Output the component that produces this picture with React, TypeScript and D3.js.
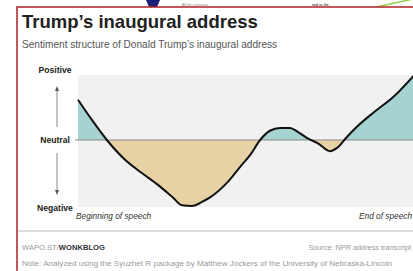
import React from 'react';
import * as d3 from 'd3';

// position through the speech (0 = beginning, 100 = end)
const speechPos = [0, 4.2, 8.6, 14.0, 19.0, 23.8, 28.0, 31.0, 33.9, 37.2, 39.3, 44.3, 48.2, 51.2, 54.2, 57.1, 60.1, 63.1, 65.5, 68.5, 71.4, 75.0, 77.1, 80.1, 83.0, 87.8, 93.8, 100];
// sentiment, -1 negative .. 1 positive
const sentiment = [0.61, 0.3, 0.0, -0.3, -0.5, -0.68, -0.86, -0.99, -1.0, -0.93, -0.87, -0.65, -0.41, -0.23, 0.0, 0.14, 0.18, 0.18, 0.12, 0.02, -0.05, -0.17, -0.12, 0.05, 0.2, 0.41, 0.65, 0.98];
const axisLabels = ['Positive', 'Neutral', 'Negative'];
const axisValues = [1, 0, -1];

const W = 413;
const H = 271;
const sans = "'Liberation Sans', Arial, sans-serif";

export default function App() {
  const x = d3.scaleLinear().domain([0, 100]).range([78, 414]);
  const y = d3.scaleLinear().domain([-1, 1]).range([206, 74]);
  const pts = speechPos.map((p, i) => ({ p, v: sentiment[i] }));

  const line = d3.line<{ p: number; v: number }>()
    .x(d => x(d.p))
    .y(d => y(d.v))
    .curve(d3.curveMonotoneX);
  const area = d3.area<{ p: number; v: number }>()
    .x(d => x(d.p))
    .y0(y(0))
    .y1(d => y(d.v))
    .curve(d3.curveMonotoneX);

  return (
    <svg width={W} height={H} style={{ position: 'fixed', left: 0, top: 0, background: '#fff' }}>
      <defs>
        <clipPath id="above"><rect x={0} y={0} width={W} height={y(0)} /></clipPath>
        <clipPath id="below"><rect x={0} y={y(0)} width={W} height={H} /></clipPath>
      </defs>

      {/* scrap of the page above the frame */}
      <polygon points="146,0 160,0 157,7 149,7" fill="#1c1f7a" />
      <line x1={372} y1={8} x2={413} y2={-1} stroke="#8fd14f" strokeWidth={1.5} />
      <text x={182} y={6} fontSize={3.5} fill="#888" fontFamily={sans}>All the scenarios</text>
      <text x={312} y={6} fontSize={3.5} fill="#555" fontFamily={sans} fontWeight="bold">and to the</text>

      {/* frame */}
      <rect x={17} y={7} width={420} height={280} fill="#fff" stroke="#b32025" strokeWidth={1.5} />

      <text x={22} y={28} fontFamily={sans} fontWeight="bold" fontSize={18.5} fill="#222">Trump’s inaugural address</text>
      <text x={22} y={48} fontFamily={sans} fontSize={10.1} fill="#555">Sentiment structure of Donald Trump’s inaugural address</text>

      <rect x={78} y={75} width={340} height={132} fill="#f1f1f1" />

      <path d={area(pts) ?? ''} fill="#a4d3d2" clipPath="url(#above)" />
      <path d={area(pts) ?? ''} fill="#e7d2a6" clipPath="url(#below)" />
      <line x1={75} x2={W} y1={y(0)} y2={y(0)} stroke="#8a8a8a" strokeWidth={1} />
      <path d={line(pts) ?? ''} fill="none" stroke="#111" strokeWidth={2} />

      {axisLabels.map((l, i) => (
        <text key={l} x={55} y={y(axisValues[i]) + (i === 0 ? -1 : i === 1 ? 3 : 5)} textAnchor="middle"
          fontFamily={sans} fontWeight="bold" fontSize={8.6} fill="#222">{l}</text>
      ))}
      <line x1={57} x2={57} y1={90} y2={127} stroke="#888" strokeWidth={1} />
      <polygon points="57,86 55,91 59,91" fill="#555" />
      <line x1={57} x2={57} y1={153} y2={191} stroke="#888" strokeWidth={1} />
      <polygon points="57,195 55,190 59,190" fill="#555" />

      <text x={76} y={219} fontFamily={sans} fontStyle="italic" fontSize={8.3} fill="#333">Beginning of speech</text>
      <text x={359} y={219} fontFamily={sans} fontStyle="italic" fontSize={8.3} fill="#333">End of speech</text>

      <line x1={18} x2={W} y1={231} y2={231} stroke="#bbb" strokeWidth={1} />
      <text x={22} y={250} fontFamily={sans} fontSize={7.6} fill="#999">
        WAPO.ST/<tspan fontWeight="bold" fill="#333">WONKBLOG</tspan>
      </text>
      <text x={411} y={250} textAnchor="end" fontFamily={sans} fontSize={7.3} fill="#999">Source: NPR address transcript</text>
      <text x={22} y={266} fontFamily={sans} fontSize={8.1} fill="#999">Note: Analyzed using the Syuzhet R package by Matthew Jockers of the University of Nebraska-Lincoln</text>
    </svg>
  );
}
